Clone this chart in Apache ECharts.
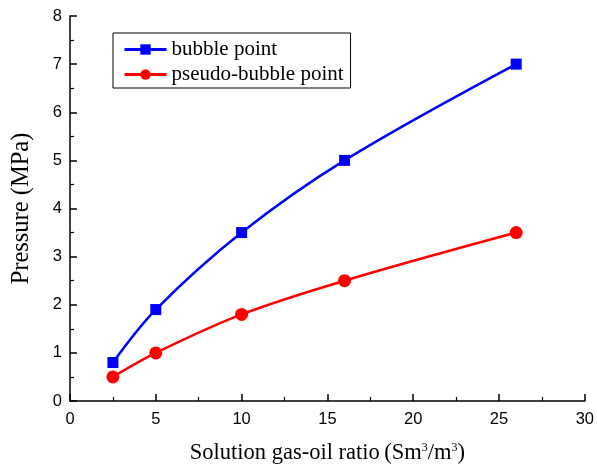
<!DOCTYPE html>
<html><head><meta charset="utf-8">
<script src="https://cdn.jsdelivr.net/npm/echarts@6/dist/echarts.min.js"></script>
<style>html,body{margin:0;padding:0;background:#fff}#c{width:597px;height:470px}</style>
</head><body><div id="c"></div>
<script>
const xBubble = [2.5, 5, 10, 16, 26];
const yBubble = [0.8, 1.9, 3.5, 5.0, 7.0];
const xPseudo = [2.5, 5, 10, 16, 26];
const yPseudo = [0.5, 1.0, 1.8, 2.5, 3.5];
const seriesNames = ['bubble point', 'pseudo-bubble point'];

const chart = echarts.init(document.getElementById('c'));
const axisCommon = {
  axisLine: {show: true, lineStyle: {color: '#000', width: 1.5}},
  axisTick: {show: true, inside: true, length: 7, lineStyle: {color: '#000', width: 1.5}},
  minorTick: {show: true, splitNumber: 2, length: 4, lineStyle: {color: '#000', width: 1.2}},
  splitLine: {show: false},
  axisLabel: {color: '#000', fontFamily: 'Liberation Sans', fontSize: 16.5}
};
chart.setOption({
  animation: false,
  grid: {left: 70, right: 10, top: 16, bottom: 69},
  legend: {
    left: 113, top: 33, orient: 'vertical',
    borderColor: '#000', borderWidth: 1, padding: [6, 7, 3, 10],
    itemWidth: 42, itemHeight: 13, itemGap: 4,
    lineStyle: {width: 3},
    textStyle: {fontFamily: 'Liberation Serif', fontSize: 21, color: '#000'},
    data: seriesNames
  },
  xAxis: Object.assign({}, axisCommon, {
    type: 'value', min: 0, max: 30, interval: 5,
    axisLabel: Object.assign({}, axisCommon.axisLabel, {margin: 10}),
    name: '{a|Solution gas-oil ratio\u2009(Sm}{s|3}{a|/m}{s|3}{a|)}',
    nameLocation: 'middle', nameGap: 41,
    nameTextStyle: {rich: {
      a: {fontFamily: 'Liberation Serif', fontSize: 22.5, color: '#000'},
      s: {fontFamily: 'Liberation Serif', fontSize: 12, color: '#000', verticalAlign: 'top', padding: [0,0,10,0]}
    }}
  }),
  yAxis: Object.assign({}, axisCommon, {
    type: 'value', min: 0, max: 8, interval: 1,
    axisLabel: Object.assign({}, axisCommon.axisLabel, {margin: 8}),
    name: 'Pressure (MPa)', nameLocation: 'middle', nameGap: 36,
    nameTextStyle: {fontFamily: 'Liberation Serif', fontSize: 24.5, color: '#000'}
  }),
  series: [
    {name: seriesNames[0], type: 'line', smooth: 0.35, symbol: 'rect', symbolSize: 11,
     itemStyle: {color: '#0000ff'}, lineStyle: {color: '#0000ff', width: 2.5},
     data: xBubble.map((x, i) => [x, yBubble[i]])},
    {name: seriesNames[1], type: 'line', smooth: 0.35, symbol: 'circle', symbolSize: 13,
     itemStyle: {color: '#ff0000'}, lineStyle: {color: '#ff0000', width: 2.5},
     data: xPseudo.map((x, i) => [x, yPseudo[i]])}
  ]
});
</script></body></html>
